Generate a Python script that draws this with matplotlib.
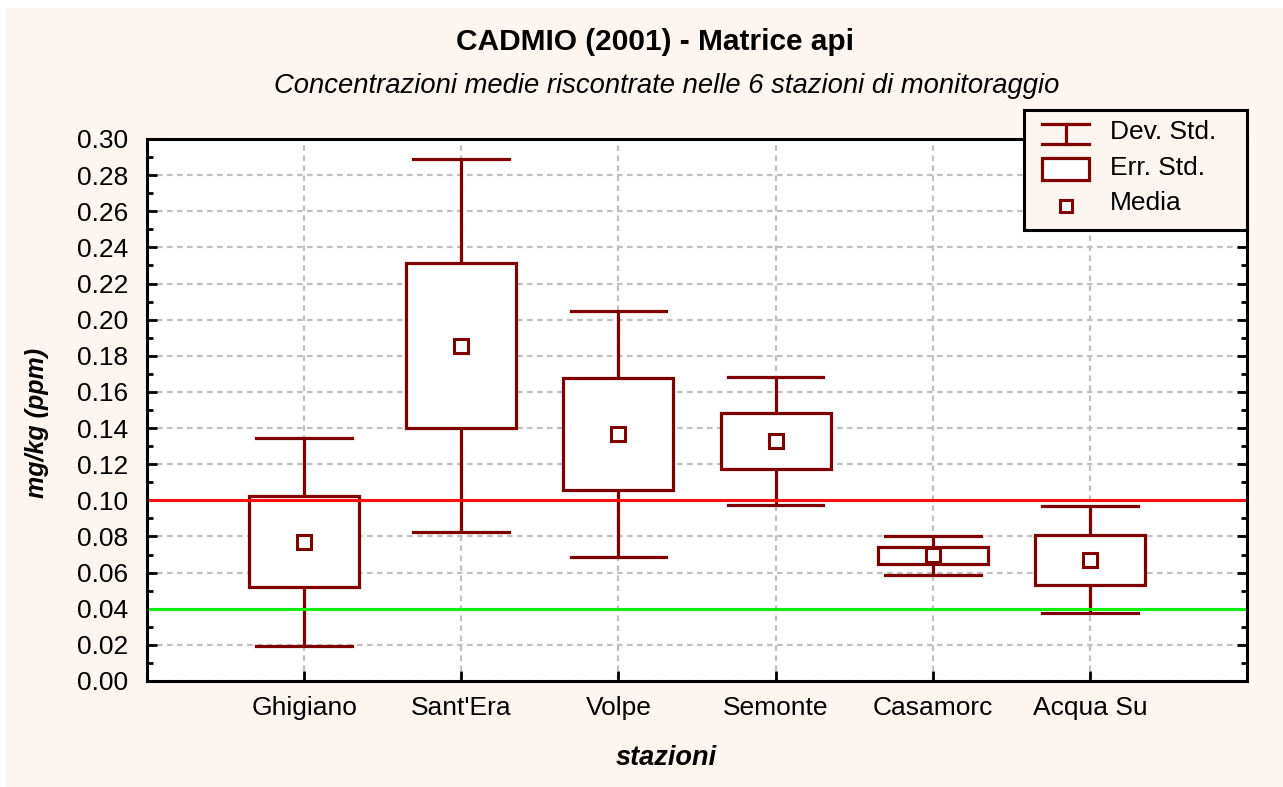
import matplotlib
matplotlib.use("Agg")
import matplotlib.pyplot as plt
from matplotlib.patches import Rectangle
from matplotlib.ticker import MultipleLocator

# dati
stazioni = ["Ghigiano", "Sant'Era", "Volpe", "Semonte", "Casamorc", "Acqua Su"]
media = [0.0770, 0.1857, 0.1367, 0.1328, 0.0695, 0.0671]
err_std = [0.0252, 0.0457, 0.0310, 0.0155, 0.0047, 0.0139]
dev_std = [0.0576, 0.1035, 0.0681, 0.0353, 0.0106, 0.0297]
soglia_rossa = 0.10
soglia_verde = 0.04

W, H = 1283, 787
plt.rcParams['font.family'] = ['Liberation Sans', 'DejaVu Sans']
SCURO = '#800000'
CREMA = '#fdf5ef'
FS = 19

fig = plt.figure(figsize=(W / 100, H / 100), dpi=100)
fig.patch.set_facecolor('white')
fig.patches.append(Rectangle((6 / W, 0), 1 - 6 / W, 1 - 8 / H, transform=fig.transFigure,
                             facecolor=CREMA, edgecolor='none', zorder=-10))

ax = fig.add_axes([147 / W, 1 - 681 / H, (1247 - 147) / W, (681 - 139) / H])
ax.set_facecolor('white')

pos = list(range(1, len(stazioni) + 1))
box_w = 0.70
cap_w = 0.61

for x, m, se, sd in zip(pos, media, err_std, dev_std):
    # dev. std.
    ax.plot([x, x], [m - sd, m + sd], color=SCURO, lw=2.3, zorder=3, solid_capstyle='butt')
    ax.plot([x - cap_w / 2, x + cap_w / 2], [m + sd, m + sd], color=SCURO, lw=2.3, zorder=3)
    ax.plot([x - cap_w / 2, x + cap_w / 2], [m - sd, m - sd], color=SCURO, lw=2.3, zorder=3)
    # err. std.
    ax.add_patch(Rectangle((x - box_w / 2, m - se), box_w, 2 * se, facecolor='white',
                           edgecolor=SCURO, lw=2.3, zorder=4))

ax.plot(pos, media, 's', ms=10.5, mfc='white', mec=SCURO, mew=2.2, ls='none', zorder=6)

ax.axhline(soglia_rossa, color='#ff1010', lw=2.2, zorder=5)
ax.axhline(soglia_verde, color='#10f010', lw=2.2, zorder=5)

ax.set_xlim(0, 7)
ax.set_ylim(0, 0.30)
ax.set_xticks(pos)
ax.set_xticklabels(stazioni, fontsize=FS)
ax.yaxis.set_major_locator(MultipleLocator(0.02))
ax.yaxis.set_minor_locator(MultipleLocator(0.01))
ax.yaxis.set_major_formatter(matplotlib.ticker.FormatStrFormatter('%.2f'))
for t in ax.get_yticklabels():
    t.set_fontsize(FS)
ax.tick_params(axis='y', which='both', direction='in', right=True, width=2, pad=13.5)
ax.tick_params(axis='y', which='major', length=7)
ax.tick_params(axis='y', which='minor', length=4)
ax.tick_params(axis='x', direction='in', length=7, width=2, pad=10.5)
ax.grid(True, color='#c0c0c0', ls=(0, (2.5, 2)), lw=1.6, zorder=1)
ax.set_axisbelow(True)
for s in ax.spines.values():
    s.set_linewidth(2.2)
    s.set_zorder(7)

fig.text(655 / W, 1 - 42 / H, 'CADMIO (2001) - Matrice api', ha='center', va='center',
         fontsize=21.5, fontweight='bold')
fig.text(667 / W, 1 - 86 / H, 'Concentrazioni medie riscontrate nelle 6 stazioni di monitoraggio',
         ha='center', va='center', fontsize=19.7, fontstyle='italic')
fig.text(666 / W, 1 - 758 / H, 'stazioni', ha='center', va='center', fontsize=19.5,
         fontweight='bold', fontstyle='italic')
fig.text(37 / W, 1 - 423 / H, 'mg/kg (ppm)', ha='center', va='center', fontsize=18,
         fontweight='bold', fontstyle='italic', rotation=90)

# legenda
lg = fig.add_axes([1024 / W, 1 - 230 / H, (1247 - 1024) / W, (230 - 110) / H])
lg.set_xlim(1024, 1247)
lg.set_ylim(230, 110)
lg.set_facecolor(CREMA)
lg.set_xticks([])
lg.set_yticks([])
for s in lg.spines.values():
    s.set_linewidth(2.2)
lg.plot([1042, 1089], [124, 124], color=SCURO, lw=2.3)
lg.plot([1042, 1089], [144, 144], color=SCURO, lw=2.3)
lg.plot([1065.5, 1065.5], [124, 144], color=SCURO, lw=2.3)
lg.add_patch(Rectangle((1042, 158), 47, 22, facecolor='white', edgecolor=SCURO, lw=2.3))
lg.plot([1065.5], [206], 's', ms=9, mfc='white', mec=SCURO, mew=2.2)
for y, txt in zip([132, 168, 203], ['Dev. Std.', 'Err. Std.', 'Media']):
    lg.text(1110, y, txt, ha='left', va='center', fontsize=FS)

fig.savefig('out.png', dpi=100, facecolor=fig.get_facecolor())
